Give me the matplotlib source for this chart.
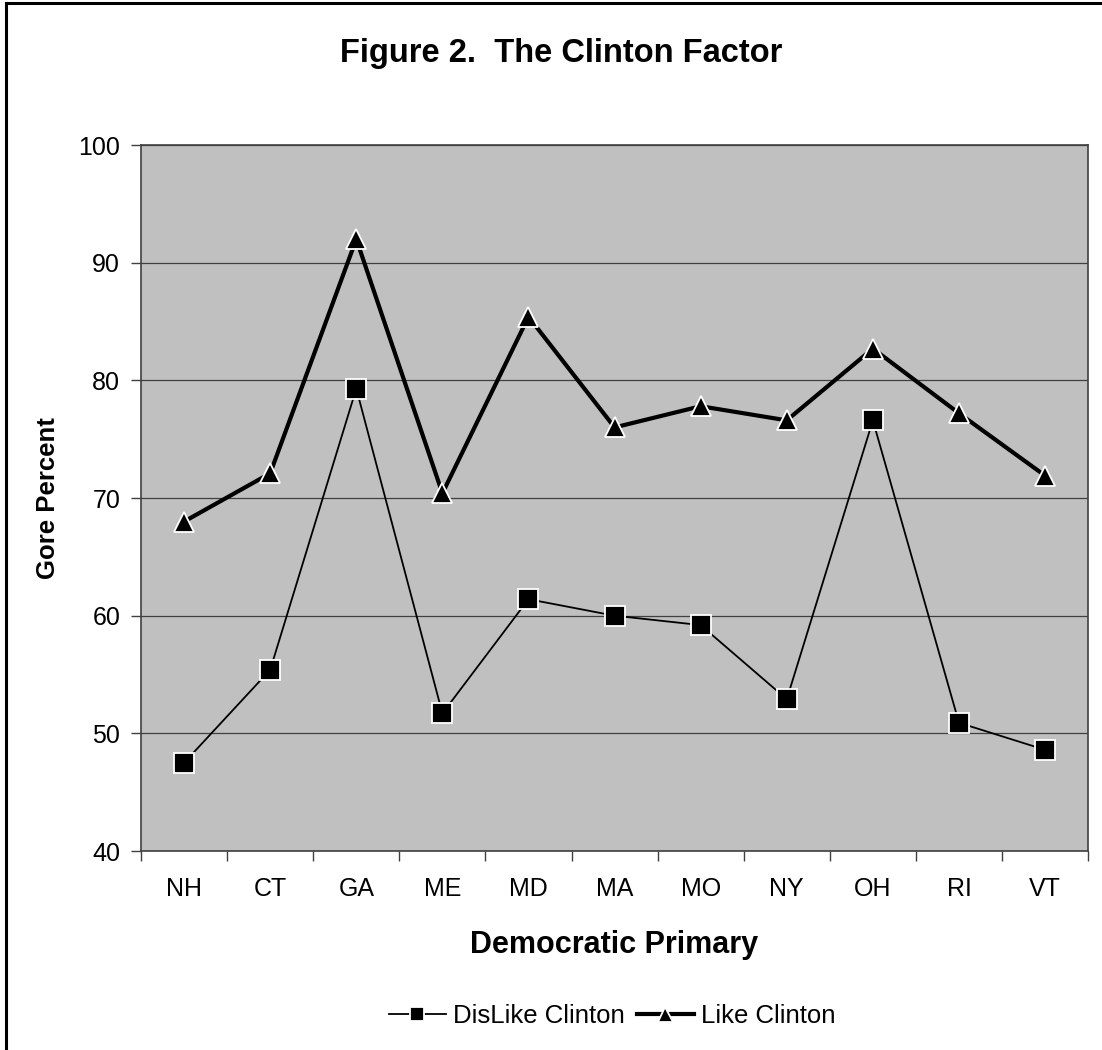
import matplotlib.pyplot as plt
from matplotlib.lines import Line2D

plt.rcParams['font.family'] = ['Liberation Sans', 'DejaVu Sans']

states = ['NH', 'CT', 'GA', 'ME', 'MD', 'MA', 'MO', 'NY', 'OH', 'RI', 'VT']
dislike = [47.5, 55.4, 79.3, 51.7, 61.4, 60.0, 59.2, 52.9, 76.6, 50.9, 48.6]
like = [68.0, 72.1, 92.0, 70.4, 85.4, 76.0, 77.8, 76.6, 82.7, 77.2, 71.9]
yticks = [40, 50, 60, 70, 80, 90, 100]

fig = plt.figure(figsize=(11.02, 10.5), dpi=100)
ax = fig.add_axes([0.128, 0.1895, 0.8594, 0.6724])
ax.set_facecolor('#c0c0c0')

x = list(range(len(states)))
ax.plot(x, dislike, '-', color='black', lw=1.3, marker='s', ms=14,
        mfc='black', mec='white', mew=1.3, label='DisLike Clinton', zorder=3)
ax.plot(x, like, '-', color='black', lw=3, marker='^', ms=15,
        mfc='black', mec='white', mew=1.3, label='Like Clinton', zorder=4)

# axes, ticks, grid
ax.set_xlim(-0.5, len(states) - 0.5)
ax.set_ylim(40, 100)
ax.set_yticks(yticks)
ax.set_xticks(x)
ax.set_xticklabels(states)
ax.set_xticks([i - 0.5 for i in range(len(states) + 1)], minor=True)
ax.tick_params(axis='x', which='major', length=0, pad=19, labelsize=18)
ax.tick_params(axis='x', which='minor', length=7, width=1, color='#404040',
               direction='out')
ax.tick_params(axis='y', length=7, width=1, color='#404040', pad=8,
               labelsize=18)
ax.yaxis.grid(True, color='#404040', lw=0.9)
ax.set_axisbelow(True)
for s in ax.spines.values():
    s.set_color('#404040')
    s.set_linewidth(1.2)

# texts
fig.text(0.5095, 0.9495, 'Figure 2.  The Clinton Factor', ha='center',
         va='center', fontsize=23.5, fontweight='bold')
fig.text(0.5576, 0.0924, 'Democratic Primary', ha='center', va='baseline',
         fontsize=22, fontweight='bold')
fig.text(0.0435, 0.5257, 'Gore Percent', ha='center', va='center',
         rotation=90, fontsize=18.5, fontweight='bold')

fig.legend(loc='center', bbox_to_anchor=(0.5554, 0.0324), ncol=2,
           frameon=False, fontsize=18.5, handlelength=2.2,
           handletextpad=0.27, columnspacing=0.5, markerscale=0.72)

# outer frame (top and left edges only visible)
fig.add_artist(Line2D([0.005, 1.0], [0.997, 0.997], color='black', lw=2.2))
fig.add_artist(Line2D([0.0055, 0.0055], [0.0, 0.997], color='black', lw=2.2))

fig.savefig('out.png', dpi=100)
